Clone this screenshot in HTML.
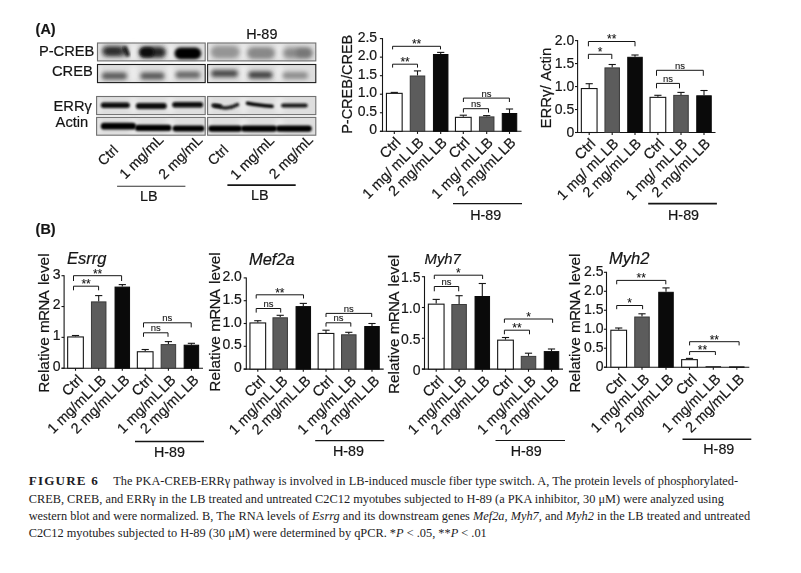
<!DOCTYPE html>
<html><head><meta charset="utf-8"><title>Figure 6</title>
<style>html,body{margin:0;padding:0;background:#fff;}body{width:801px;height:573px;overflow:hidden;}svg{display:block;}</style>
</head><body>
<svg width="801" height="573" viewBox="0 0 801 573" fill="#151515">
<defs><filter id="g5" x="-50%" y="-100%" width="200%" height="300%"><feGaussianBlur stdDeviation="0.5"/></filter><filter id="g6" x="-50%" y="-100%" width="200%" height="300%"><feGaussianBlur stdDeviation="0.6"/></filter><filter id="g7" x="-50%" y="-100%" width="200%" height="300%"><feGaussianBlur stdDeviation="0.7"/></filter><filter id="g8" x="-50%" y="-100%" width="200%" height="300%"><feGaussianBlur stdDeviation="0.8"/></filter><filter id="g9" x="-50%" y="-100%" width="200%" height="300%"><feGaussianBlur stdDeviation="0.9"/></filter><filter id="g10" x="-50%" y="-100%" width="200%" height="300%"><feGaussianBlur stdDeviation="1.0"/></filter><filter id="g11" x="-50%" y="-100%" width="200%" height="300%"><feGaussianBlur stdDeviation="1.1"/></filter><filter id="g12" x="-50%" y="-100%" width="200%" height="300%"><feGaussianBlur stdDeviation="1.2"/></filter><filter id="g13" x="-50%" y="-100%" width="200%" height="300%"><feGaussianBlur stdDeviation="1.3"/></filter><filter id="g14" x="-50%" y="-100%" width="200%" height="300%"><feGaussianBlur stdDeviation="1.4"/></filter><filter id="g15" x="-50%" y="-100%" width="200%" height="300%"><feGaussianBlur stdDeviation="1.5"/></filter><filter id="g16" x="-50%" y="-100%" width="200%" height="300%"><feGaussianBlur stdDeviation="1.6"/></filter><filter id="g17" x="-50%" y="-100%" width="200%" height="300%"><feGaussianBlur stdDeviation="1.7"/></filter><filter id="g18" x="-50%" y="-100%" width="200%" height="300%"><feGaussianBlur stdDeviation="1.8"/></filter><filter id="g19" x="-50%" y="-100%" width="200%" height="300%"><feGaussianBlur stdDeviation="1.9"/></filter><filter id="g20" x="-50%" y="-100%" width="200%" height="300%"><feGaussianBlur stdDeviation="2.0"/></filter><filter id="g21" x="-50%" y="-100%" width="200%" height="300%"><feGaussianBlur stdDeviation="2.1"/></filter><filter id="g22" x="-50%" y="-100%" width="200%" height="300%"><feGaussianBlur stdDeviation="2.2"/></filter><filter id="g23" x="-50%" y="-100%" width="200%" height="300%"><feGaussianBlur stdDeviation="2.3"/></filter><filter id="g24" x="-50%" y="-100%" width="200%" height="300%"><feGaussianBlur stdDeviation="2.4"/></filter><filter id="g25" x="-50%" y="-100%" width="200%" height="300%"><feGaussianBlur stdDeviation="2.5"/></filter><filter id="g26" x="-50%" y="-100%" width="200%" height="300%"><feGaussianBlur stdDeviation="2.6"/></filter><filter id="g27" x="-50%" y="-100%" width="200%" height="300%"><feGaussianBlur stdDeviation="2.7"/></filter><filter id="g28" x="-50%" y="-100%" width="200%" height="300%"><feGaussianBlur stdDeviation="2.8"/></filter><filter id="g29" x="-50%" y="-100%" width="200%" height="300%"><feGaussianBlur stdDeviation="2.9"/></filter><filter id="g30" x="-50%" y="-100%" width="200%" height="300%"><feGaussianBlur stdDeviation="3.0"/></filter><filter id="g31" x="-50%" y="-100%" width="200%" height="300%"><feGaussianBlur stdDeviation="3.1"/></filter><filter id="g32" x="-50%" y="-100%" width="200%" height="300%"><feGaussianBlur stdDeviation="3.2"/></filter><filter id="g33" x="-50%" y="-100%" width="200%" height="300%"><feGaussianBlur stdDeviation="3.3"/></filter><filter id="g34" x="-50%" y="-100%" width="200%" height="300%"><feGaussianBlur stdDeviation="3.4"/></filter><filter id="g35" x="-50%" y="-100%" width="200%" height="300%"><feGaussianBlur stdDeviation="3.5"/></filter><filter id="g36" x="-50%" y="-100%" width="200%" height="300%"><feGaussianBlur stdDeviation="3.6"/></filter><filter id="g37" x="-50%" y="-100%" width="200%" height="300%"><feGaussianBlur stdDeviation="3.7"/></filter><filter id="g38" x="-50%" y="-100%" width="200%" height="300%"><feGaussianBlur stdDeviation="3.8"/></filter><filter id="g39" x="-50%" y="-100%" width="200%" height="300%"><feGaussianBlur stdDeviation="3.9"/></filter></defs>
<rect width="801" height="573" fill="#fff"/>
<g style="filter:grayscale(1)">
<text x="35.6" y="33.6" font-size="14.4" text-anchor="start" font-family='"Liberation Sans", sans-serif' font-weight="bold"  stroke="#151515" stroke-width="0.2">(A)</text>
<text x="261.8" y="38.8" font-size="14.4" text-anchor="middle" font-family='"Liberation Sans", sans-serif'   stroke="#151515" stroke-width="0.2">H-89</text>
<text x="38.9" y="56.4" font-size="14.7" text-anchor="start" font-family='"Liberation Sans", sans-serif'   stroke="#151515" stroke-width="0.2">P-CREB</text>
<text x="52" y="75.8" font-size="14.7" text-anchor="start" font-family='"Liberation Sans", sans-serif'   stroke="#151515" stroke-width="0.2">CREB</text>
<text x="53.5" y="110.8" font-size="14.7" text-anchor="start" font-family='"Liberation Sans", sans-serif'   stroke="#151515" stroke-width="0.2">ERRγ</text>
<text x="55.6" y="127.4" font-size="14.7" text-anchor="start" font-family='"Liberation Sans", sans-serif'   stroke="#151515" stroke-width="0.2">Actin</text>
<rect x="97.5" y="43" width="107.7" height="17.9" fill="#dedede"/>
<rect x="207.6" y="43" width="108.2" height="17.9" fill="#dedede"/>
<rect x="97.5" y="64.5" width="107.7" height="18.1" fill="#dedede"/>
<rect x="207.6" y="64.5" width="108.2" height="18.1" fill="#dedede"/>
<rect x="96.6" y="96.5" width="108.6" height="18.1" fill="#dedede"/>
<rect x="207.6" y="96.5" width="108.2" height="18.1" fill="#dedede"/>
<rect x="96.6" y="117.4" width="108.6" height="17.8" fill="#dedede"/>
<rect x="207.6" y="117.4" width="108.2" height="17.8" fill="#dedede"/>
<rect x="129.5" y="44" width="8" height="15.9" rx="2" fill="#ececec" opacity="1.0" filter="url(#g25)"/>
<rect x="166.5" y="44" width="8" height="15.9" rx="2" fill="#ececec" opacity="1.0" filter="url(#g25)"/>
<rect x="239.5" y="44" width="8" height="15.9" rx="2" fill="#ececec" opacity="1.0" filter="url(#g25)"/>
<rect x="275.5" y="44" width="8" height="15.9" rx="2" fill="#ececec" opacity="1.0" filter="url(#g25)"/>
<rect x="98" y="44" width="4" height="15.9" rx="1" fill="#e6e6e6" opacity="1.0" filter="url(#g15)"/>
<rect x="208" y="44" width="4" height="15.9" rx="1" fill="#e6e6e6" opacity="1.0" filter="url(#g15)"/>
<rect x="129.5" y="65.5" width="8" height="16.1" rx="2" fill="#ececec" opacity="1.0" filter="url(#g25)"/>
<rect x="166.5" y="65.5" width="8" height="16.1" rx="2" fill="#ececec" opacity="1.0" filter="url(#g25)"/>
<rect x="239.5" y="65.5" width="8" height="16.1" rx="2" fill="#ececec" opacity="1.0" filter="url(#g25)"/>
<rect x="275.5" y="65.5" width="8" height="16.1" rx="2" fill="#ececec" opacity="1.0" filter="url(#g25)"/>
<rect x="98" y="65.5" width="4" height="16.1" rx="1" fill="#e6e6e6" opacity="1.0" filter="url(#g15)"/>
<rect x="208" y="65.5" width="4" height="16.1" rx="1" fill="#e6e6e6" opacity="1.0" filter="url(#g15)"/>
<rect x="129.5" y="97.5" width="8" height="16.1" rx="2" fill="#ececec" opacity="1.0" filter="url(#g25)"/>
<rect x="166.5" y="97.5" width="8" height="16.1" rx="2" fill="#ececec" opacity="1.0" filter="url(#g25)"/>
<rect x="239.5" y="97.5" width="8" height="16.1" rx="2" fill="#ececec" opacity="1.0" filter="url(#g25)"/>
<rect x="275.5" y="97.5" width="8" height="16.1" rx="2" fill="#ececec" opacity="1.0" filter="url(#g25)"/>
<rect x="98" y="97.5" width="4" height="16.1" rx="1" fill="#e6e6e6" opacity="1.0" filter="url(#g15)"/>
<rect x="208" y="97.5" width="4" height="16.1" rx="1" fill="#e6e6e6" opacity="1.0" filter="url(#g15)"/>
<rect x="129.5" y="118.4" width="8" height="15.8" rx="2" fill="#ececec" opacity="1.0" filter="url(#g25)"/>
<rect x="166.5" y="118.4" width="8" height="15.8" rx="2" fill="#ececec" opacity="1.0" filter="url(#g25)"/>
<rect x="239.5" y="118.4" width="8" height="15.8" rx="2" fill="#ececec" opacity="1.0" filter="url(#g25)"/>
<rect x="275.5" y="118.4" width="8" height="15.8" rx="2" fill="#ececec" opacity="1.0" filter="url(#g25)"/>
<rect x="98" y="118.4" width="4" height="15.8" rx="1" fill="#e6e6e6" opacity="1.0" filter="url(#g15)"/>
<rect x="208" y="118.4" width="4" height="15.8" rx="1" fill="#e6e6e6" opacity="1.0" filter="url(#g15)"/>
<rect x="102" y="46.3" width="25" height="9.9" rx="4.95" fill="#444" opacity="1.0" filter="url(#g24)"/>
<rect x="105" y="48.5" width="16" height="5.5" rx="2.75" fill="#262626" opacity="1.0" filter="url(#g19)"/>
<path d="M124.3,46.8 L128.3,56.3" stroke="#080808" stroke-width="4" fill="none" filter="url(#g14)"/>
<rect x="139" y="46.8" width="27" height="11" rx="5.5" fill="#262626" opacity="1.0" filter="url(#g21)"/>
<rect x="140" y="47.8" width="14" height="9" rx="4.5" fill="#0c0c0c" opacity="1.0" filter="url(#g17)"/>
<rect x="174.5" y="47.4" width="26.7" height="11.8" rx="5.9" fill="#000" opacity="1.0" filter="url(#g16)"/>
<rect x="210.5" y="46" width="29.5" height="12" rx="6" fill="#9a9a9a" opacity="1.0" filter="url(#g26)"/>
<rect x="214" y="48.5" width="22" height="7.5" rx="3.75" fill="#949494" opacity="1.0" filter="url(#g22)"/>
<rect x="247" y="47.5" width="28" height="11" rx="5.5" fill="#8c8c8c" opacity="1.0" filter="url(#g26)"/>
<rect x="250" y="49.5" width="22" height="7.5" rx="3.75" fill="#888888" opacity="1.0" filter="url(#g22)"/>
<rect x="283" y="47.5" width="29.5" height="11" rx="5.5" fill="#8a8a8a" opacity="1.0" filter="url(#g26)"/>
<rect x="296" y="49" width="15" height="8" rx="4" fill="#767676" opacity="1.0" filter="url(#g22)"/>
<rect x="101.8" y="72.6" width="25.2" height="7" rx="3.5" fill="#585858" opacity="1.0" filter="url(#g23)"/>
<rect x="140.3" y="72.6" width="24.2" height="7" rx="3.5" fill="#565656" opacity="1.0" filter="url(#g23)"/>
<rect x="175.5" y="71.5" width="24.7" height="6.8" rx="3.4" fill="#646464" opacity="1.0" filter="url(#g23)"/>
<rect x="211" y="69.9" width="27" height="7" rx="3.5" fill="#474747" opacity="1.0" filter="url(#g23)"/>
<rect x="248.3" y="71.4" width="24.2" height="7.2" rx="3.6" fill="#3e3e3e" opacity="1.0" filter="url(#g23)"/>
<rect x="282.5" y="72" width="25.5" height="7" rx="3.5" fill="#8c8c8c" opacity="1.0" filter="url(#g23)"/>
<rect x="100.8" y="102.6" width="29" height="5.4" rx="2.7" fill="#0a0a0a" opacity="1.0" filter="url(#g12)"/>
<rect x="135.8" y="103.1" width="30.9" height="5.8" rx="2.9" fill="#0a0a0a" opacity="1.0" filter="url(#g12)"/>
<rect x="172.2" y="101.9" width="30.9" height="5.6" rx="2.8" fill="#0a0a0a" opacity="1.0" filter="url(#g12)"/>
<path d="M213,105.4 C218,105.2 221,108.2 226,108 C231,107.8 234,106.5 237.5,104.6" stroke="#202020" stroke-width="3.6" fill="none" stroke-linecap="round" filter="url(#g13)"/>
<rect x="213" y="104.2" width="9" height="3.6" rx="1.8" fill="#111" opacity="1.0" filter="url(#g13)"/>
<path d="M247.5,103.2 Q258,105.2 272,106.3" stroke="#050505" stroke-width="3.6" fill="none" stroke-linecap="round" filter="url(#g11)"/>
<rect x="281" y="103.4" width="26.7" height="4.2" rx="2.1" fill="#181818" opacity="1.0" filter="url(#g11)"/>
<rect x="100.8" y="122.8" width="35.2" height="6.7" rx="3.35" fill="#000" opacity="1.0" filter="url(#g13)"/>
<rect x="135" y="124.8" width="36.5" height="6.2" rx="3.1" fill="#000" opacity="1.0" filter="url(#g12)"/>
<rect x="172.5" y="125.5" width="32" height="6.1" rx="3.05" fill="#000" opacity="1.0" filter="url(#g12)"/>
<rect x="208.2" y="125.4" width="33.8" height="6.4" rx="3.2" fill="#000" opacity="1.0" filter="url(#g12)"/>
<rect x="241" y="125.4" width="36" height="6.4" rx="3.2" fill="#000" opacity="1.0" filter="url(#g12)"/>
<rect x="276" y="125.4" width="35.8" height="6.4" rx="3.2" fill="#000" opacity="1.0" filter="url(#g12)"/>
<rect x="97.5" y="43" width="107.7" height="17.9" fill="none" stroke="#707070" stroke-width="1.1"/>
<rect x="207.6" y="43" width="108.2" height="17.9" fill="none" stroke="#707070" stroke-width="1.1"/>
<rect x="97.5" y="64.5" width="107.7" height="18.1" fill="none" stroke="#1e1e1e" stroke-width="1.1"/>
<rect x="207.6" y="64.5" width="108.2" height="18.1" fill="none" stroke="#1e1e1e" stroke-width="1.1"/>
<rect x="96.6" y="96.5" width="108.6" height="18.1" fill="none" stroke="#707070" stroke-width="1.1"/>
<rect x="207.6" y="96.5" width="108.2" height="18.1" fill="none" stroke="#707070" stroke-width="1.1"/>
<rect x="96.6" y="117.4" width="108.6" height="17.8" fill="none" stroke="#707070" stroke-width="1.1"/>
<rect x="207.6" y="117.4" width="108.2" height="17.8" fill="none" stroke="#707070" stroke-width="1.1"/>
<text transform="translate(119,151) rotate(-45)" font-size="14.2" text-anchor="end" font-family='"Liberation Sans", sans-serif'  stroke="#151515" stroke-width="0.2">Ctrl</text>
<text transform="translate(164.3,140.6) rotate(-45)" font-size="14.2" text-anchor="end" font-family='"Liberation Sans", sans-serif'  stroke="#151515" stroke-width="0.2">1 mg/mL</text>
<text transform="translate(203.3,141) rotate(-45)" font-size="14.2" text-anchor="end" font-family='"Liberation Sans", sans-serif'  stroke="#151515" stroke-width="0.2">2 mg/mL</text>
<text transform="translate(229.2,150.7) rotate(-45)" font-size="14.2" text-anchor="end" font-family='"Liberation Sans", sans-serif'  stroke="#151515" stroke-width="0.2">Ctrl</text>
<text transform="translate(275.1,141.4) rotate(-45)" font-size="14.2" text-anchor="end" font-family='"Liberation Sans", sans-serif'  stroke="#151515" stroke-width="0.2">1 mg/mL</text>
<text transform="translate(313.9,140.7) rotate(-45)" font-size="14.2" text-anchor="end" font-family='"Liberation Sans", sans-serif'  stroke="#151515" stroke-width="0.2">2 mg/mL</text>
<line x1="117.1" y1="186.2" x2="185.4" y2="186.2" stroke="#333" stroke-width="1.1"/>
<line x1="227.4" y1="185.2" x2="295.7" y2="185.2" stroke="#151515" stroke-width="1.7"/>
<text x="148.7" y="200.6" font-size="14.4" text-anchor="middle" font-family='"Liberation Sans", sans-serif'   stroke="#151515" stroke-width="0.2">LB</text>
<text x="259.9" y="200.2" font-size="14.4" text-anchor="middle" font-family='"Liberation Sans", sans-serif'   stroke="#151515" stroke-width="0.2">LB</text>
<line x1="382.5" y1="38.1" x2="382.5" y2="131.8" stroke="#151515" stroke-width="1.1"/>
<line x1="379.9" y1="131.3" x2="521.5" y2="131.3" stroke="#151515" stroke-width="1.1"/>
<line x1="379.9" y1="131.3" x2="382.5" y2="131.3" stroke="#151515" stroke-width="1.1"/>
<text x="377.1" y="134.35" font-size="14" text-anchor="end" font-family='"Liberation Sans", sans-serif'   stroke="#151515" stroke-width="0.2">0</text>
<line x1="379.9" y1="112.76" x2="382.5" y2="112.76" stroke="#151515" stroke-width="1.1"/>
<text x="377.1" y="115.81" font-size="14" text-anchor="end" font-family='"Liberation Sans", sans-serif'   stroke="#151515" stroke-width="0.2">0.5</text>
<line x1="379.9" y1="94.22" x2="382.5" y2="94.22" stroke="#151515" stroke-width="1.1"/>
<text x="377.1" y="97.27" font-size="14" text-anchor="end" font-family='"Liberation Sans", sans-serif'   stroke="#151515" stroke-width="0.2">1.0</text>
<line x1="379.9" y1="75.68" x2="382.5" y2="75.68" stroke="#151515" stroke-width="1.1"/>
<text x="377.1" y="78.73" font-size="14" text-anchor="end" font-family='"Liberation Sans", sans-serif'   stroke="#151515" stroke-width="0.2">1.5</text>
<line x1="379.9" y1="57.14" x2="382.5" y2="57.14" stroke="#151515" stroke-width="1.1"/>
<text x="377.1" y="60.19" font-size="14" text-anchor="end" font-family='"Liberation Sans", sans-serif'   stroke="#151515" stroke-width="0.2">2.0</text>
<line x1="379.9" y1="38.6" x2="382.5" y2="38.6" stroke="#151515" stroke-width="1.1"/>
<text x="377.1" y="41.65" font-size="14" text-anchor="end" font-family='"Liberation Sans", sans-serif'   stroke="#151515" stroke-width="0.2">2.5</text>
<line x1="394.3" y1="92.4" x2="394.3" y2="92.8" stroke="#151515" stroke-width="1.1"/>
<line x1="390.7" y1="92.4" x2="397.9" y2="92.4" stroke="#151515" stroke-width="1.1"/>
<rect x="386.45" y="93.35" width="15.7" height="37.95" fill="#fff" stroke="#151515" stroke-width="1.1"/>
<line x1="394.3" y1="131.3" x2="394.3" y2="133.9" stroke="#151515" stroke-width="1.1"/>
<line x1="417.5" y1="70.9" x2="417.5" y2="75.5" stroke="#151515" stroke-width="1.1"/>
<line x1="413.9" y1="70.9" x2="421.1" y2="70.9" stroke="#151515" stroke-width="1.1"/>
<rect x="410.25" y="76" width="14.5" height="55.3" fill="#5c5c5c" stroke="#3a3a3a" stroke-width="1"/>
<line x1="417.5" y1="131.3" x2="417.5" y2="133.9" stroke="#151515" stroke-width="1.1"/>
<line x1="440.7" y1="52.4" x2="440.7" y2="54" stroke="#151515" stroke-width="1.1"/>
<line x1="437.1" y1="52.4" x2="444.3" y2="52.4" stroke="#151515" stroke-width="1.1"/>
<rect x="433.45" y="54.5" width="14.5" height="76.8" fill="#0a0a0a" stroke="#0a0a0a" stroke-width="1"/>
<line x1="440.7" y1="131.3" x2="440.7" y2="133.9" stroke="#151515" stroke-width="1.1"/>
<line x1="463.3" y1="115.2" x2="463.3" y2="116.8" stroke="#151515" stroke-width="1.1"/>
<line x1="459.7" y1="115.2" x2="466.9" y2="115.2" stroke="#151515" stroke-width="1.1"/>
<rect x="455.45" y="117.35" width="15.7" height="13.95" fill="#fff" stroke="#151515" stroke-width="1.1"/>
<line x1="463.3" y1="131.3" x2="463.3" y2="133.9" stroke="#151515" stroke-width="1.1"/>
<line x1="486.7" y1="115.6" x2="486.7" y2="116.4" stroke="#151515" stroke-width="1.1"/>
<line x1="483.1" y1="115.6" x2="490.3" y2="115.6" stroke="#151515" stroke-width="1.1"/>
<rect x="479.45" y="116.9" width="14.5" height="14.4" fill="#5c5c5c" stroke="#3a3a3a" stroke-width="1"/>
<line x1="486.7" y1="131.3" x2="486.7" y2="133.9" stroke="#151515" stroke-width="1.1"/>
<line x1="509.5" y1="109" x2="509.5" y2="113" stroke="#151515" stroke-width="1.1"/>
<line x1="505.9" y1="109" x2="513.1" y2="109" stroke="#151515" stroke-width="1.1"/>
<rect x="502.25" y="113.5" width="14.5" height="17.8" fill="#0a0a0a" stroke="#0a0a0a" stroke-width="1"/>
<line x1="509.5" y1="131.3" x2="509.5" y2="133.9" stroke="#151515" stroke-width="1.1"/>
<polyline points="392.6,67.6 392.6,64.2 417.5,64.2 417.5,67.6" fill="none" stroke="#151515" stroke-width="1.0"/>
<text x="405.05" y="66.1" font-size="12" text-anchor="middle" font-family='"Liberation Sans", sans-serif'   stroke="#151515" stroke-width="0.1">**</text>
<polyline points="392.6,49.4 392.6,46.3 440.5,46.3 440.5,49.4" fill="none" stroke="#151515" stroke-width="1.0"/>
<text x="416.55" y="48.2" font-size="12" text-anchor="middle" font-family='"Liberation Sans", sans-serif'   stroke="#151515" stroke-width="0.1">**</text>
<polyline points="463.4,112.5 463.4,108.7 488.5,108.7 488.5,112.5" fill="none" stroke="#151515" stroke-width="1.0"/>
<text x="475.95" y="107.1" font-size="9.5" text-anchor="middle" font-family='"Liberation Sans", sans-serif'   stroke="#151515" stroke-width="0.1">ns</text>
<polyline points="463.4,102 463.4,98.1 509.4,98.1 509.4,102" fill="none" stroke="#151515" stroke-width="1.0"/>
<text x="486.4" y="96.5" font-size="9.5" text-anchor="middle" font-family='"Liberation Sans", sans-serif'   stroke="#151515" stroke-width="0.1">ns</text>
<text transform="translate(401.5,143.3) rotate(-45)" font-size="14.5" text-anchor="end" font-family='"Liberation Sans", sans-serif'  stroke="#151515" stroke-width="0.2">Ctrl</text>
<text transform="translate(424.7,143.3) rotate(-45)" font-size="14.5" text-anchor="end" font-family='"Liberation Sans", sans-serif'  stroke="#151515" stroke-width="0.2">1 mg/ mL<tspan dx="-2.2">&#160;LB</tspan></text>
<text transform="translate(447.9,143.3) rotate(-45)" font-size="14.5" text-anchor="end" font-family='"Liberation Sans", sans-serif'  stroke="#151515" stroke-width="0.2">2 mg/mL<tspan dx="-2.2">&#160;LB</tspan></text>
<text transform="translate(470.5,143.3) rotate(-45)" font-size="14.5" text-anchor="end" font-family='"Liberation Sans", sans-serif'  stroke="#151515" stroke-width="0.2">Ctrl</text>
<text transform="translate(493.9,143.3) rotate(-45)" font-size="14.5" text-anchor="end" font-family='"Liberation Sans", sans-serif'  stroke="#151515" stroke-width="0.2">1 mg/ mL<tspan dx="-2.2">&#160;LB</tspan></text>
<text transform="translate(516.7,143.3) rotate(-45)" font-size="14.5" text-anchor="end" font-family='"Liberation Sans", sans-serif'  stroke="#151515" stroke-width="0.2">2 mg/mL<tspan dx="-2.2">&#160;LB</tspan></text>
<line x1="453" y1="203.7" x2="522" y2="203.7" stroke="#151515" stroke-width="1.2"/>
<text x="485.7" y="219.9" font-size="14.3" text-anchor="middle" font-family='"Liberation Sans", sans-serif'   stroke="#151515" stroke-width="0.2">H-89</text>
<text transform="translate(351.9,84.3) rotate(-90)" font-size="14.5" text-anchor="middle" font-family='"Liberation Sans", sans-serif'  stroke="#151515" stroke-width="0.2">P-CREB/CREB</text>
<line x1="577.6" y1="40.1" x2="577.6" y2="133" stroke="#151515" stroke-width="1.1"/>
<line x1="575" y1="132.5" x2="715.5" y2="132.5" stroke="#151515" stroke-width="1.1"/>
<line x1="575" y1="132.5" x2="577.6" y2="132.5" stroke="#151515" stroke-width="1.1"/>
<text x="574.3" y="136.95" font-size="14" text-anchor="end" font-family='"Liberation Sans", sans-serif'   stroke="#151515" stroke-width="0.2">0</text>
<line x1="575" y1="109.53" x2="577.6" y2="109.53" stroke="#151515" stroke-width="1.1"/>
<text x="574.3" y="113.98" font-size="14" text-anchor="end" font-family='"Liberation Sans", sans-serif'   stroke="#151515" stroke-width="0.2">0.5</text>
<line x1="575" y1="86.55" x2="577.6" y2="86.55" stroke="#151515" stroke-width="1.1"/>
<text x="574.3" y="91" font-size="14" text-anchor="end" font-family='"Liberation Sans", sans-serif'   stroke="#151515" stroke-width="0.2">1.0</text>
<line x1="575" y1="63.57" x2="577.6" y2="63.57" stroke="#151515" stroke-width="1.1"/>
<text x="574.3" y="68.02" font-size="14" text-anchor="end" font-family='"Liberation Sans", sans-serif'   stroke="#151515" stroke-width="0.2">1.5</text>
<line x1="575" y1="40.6" x2="577.6" y2="40.6" stroke="#151515" stroke-width="1.1"/>
<text x="574.3" y="45.05" font-size="14" text-anchor="end" font-family='"Liberation Sans", sans-serif'   stroke="#151515" stroke-width="0.2">2.0</text>
<line x1="589.2" y1="83.7" x2="589.2" y2="88" stroke="#151515" stroke-width="1.1"/>
<line x1="585.6" y1="83.7" x2="592.8" y2="83.7" stroke="#151515" stroke-width="1.1"/>
<rect x="581.35" y="88.55" width="15.7" height="43.95" fill="#fff" stroke="#151515" stroke-width="1.1"/>
<line x1="589.2" y1="132.5" x2="589.2" y2="135.1" stroke="#151515" stroke-width="1.1"/>
<line x1="612.2" y1="64.5" x2="612.2" y2="67.4" stroke="#151515" stroke-width="1.1"/>
<line x1="608.6" y1="64.5" x2="615.8" y2="64.5" stroke="#151515" stroke-width="1.1"/>
<rect x="604.95" y="67.9" width="14.5" height="64.6" fill="#5c5c5c" stroke="#3a3a3a" stroke-width="1"/>
<line x1="612.2" y1="132.5" x2="612.2" y2="135.1" stroke="#151515" stroke-width="1.1"/>
<line x1="635" y1="55" x2="635" y2="56.8" stroke="#151515" stroke-width="1.1"/>
<line x1="631.4" y1="55" x2="638.6" y2="55" stroke="#151515" stroke-width="1.1"/>
<rect x="627.75" y="57.3" width="14.5" height="75.2" fill="#0a0a0a" stroke="#0a0a0a" stroke-width="1"/>
<line x1="635" y1="132.5" x2="635" y2="135.1" stroke="#151515" stroke-width="1.1"/>
<line x1="657.9" y1="95.3" x2="657.9" y2="96.8" stroke="#151515" stroke-width="1.1"/>
<line x1="654.3" y1="95.3" x2="661.5" y2="95.3" stroke="#151515" stroke-width="1.1"/>
<rect x="650.05" y="97.35" width="15.7" height="35.15" fill="#fff" stroke="#151515" stroke-width="1.1"/>
<line x1="657.9" y1="132.5" x2="657.9" y2="135.1" stroke="#151515" stroke-width="1.1"/>
<line x1="681" y1="92.4" x2="681" y2="94.9" stroke="#151515" stroke-width="1.1"/>
<line x1="677.4" y1="92.4" x2="684.6" y2="92.4" stroke="#151515" stroke-width="1.1"/>
<rect x="673.75" y="95.4" width="14.5" height="37.1" fill="#5c5c5c" stroke="#3a3a3a" stroke-width="1"/>
<line x1="681" y1="132.5" x2="681" y2="135.1" stroke="#151515" stroke-width="1.1"/>
<line x1="704" y1="90.5" x2="704" y2="95.3" stroke="#151515" stroke-width="1.1"/>
<line x1="700.4" y1="90.5" x2="707.6" y2="90.5" stroke="#151515" stroke-width="1.1"/>
<rect x="696.75" y="95.8" width="14.5" height="36.7" fill="#0a0a0a" stroke="#0a0a0a" stroke-width="1"/>
<line x1="704" y1="132.5" x2="704" y2="135.1" stroke="#151515" stroke-width="1.1"/>
<polyline points="588.4,59 588.4,54.3 611.8,54.3 611.8,59" fill="none" stroke="#151515" stroke-width="1.0"/>
<text x="600.1" y="56.2" font-size="12" text-anchor="middle" font-family='"Liberation Sans", sans-serif'   stroke="#151515" stroke-width="0.1">*</text>
<polyline points="588.4,46.3 588.4,41.5 635,41.5 635,46.3" fill="none" stroke="#151515" stroke-width="1.0"/>
<text x="611.7" y="43.4" font-size="12" text-anchor="middle" font-family='"Liberation Sans", sans-serif'   stroke="#151515" stroke-width="0.1">**</text>
<polyline points="656.5,88.3 656.5,83.4 679.5,83.4 679.5,88.3" fill="none" stroke="#151515" stroke-width="1.0"/>
<text x="668" y="81.8" font-size="9.5" text-anchor="middle" font-family='"Liberation Sans", sans-serif'   stroke="#151515" stroke-width="0.1">ns</text>
<polyline points="656.5,75.8 656.5,70.3 703.3,70.3 703.3,75.8" fill="none" stroke="#151515" stroke-width="1.0"/>
<text x="679.9" y="68.7" font-size="9.5" text-anchor="middle" font-family='"Liberation Sans", sans-serif'   stroke="#151515" stroke-width="0.1">ns</text>
<text transform="translate(596.4,144.5) rotate(-45)" font-size="14.5" text-anchor="end" font-family='"Liberation Sans", sans-serif'  stroke="#151515" stroke-width="0.2">Ctrl</text>
<text transform="translate(619.4,144.5) rotate(-45)" font-size="14.5" text-anchor="end" font-family='"Liberation Sans", sans-serif'  stroke="#151515" stroke-width="0.2">1 mg/ mL<tspan dx="-2.2">&#160;LB</tspan></text>
<text transform="translate(642.2,144.5) rotate(-45)" font-size="14.5" text-anchor="end" font-family='"Liberation Sans", sans-serif'  stroke="#151515" stroke-width="0.2">2 mg/mL<tspan dx="-2.2">&#160;LB</tspan></text>
<text transform="translate(665.1,144.5) rotate(-45)" font-size="14.5" text-anchor="end" font-family='"Liberation Sans", sans-serif'  stroke="#151515" stroke-width="0.2">Ctrl</text>
<text transform="translate(688.2,144.5) rotate(-45)" font-size="14.5" text-anchor="end" font-family='"Liberation Sans", sans-serif'  stroke="#151515" stroke-width="0.2">1 mg/ mL<tspan dx="-2.2">&#160;LB</tspan></text>
<text transform="translate(711.2,144.5) rotate(-45)" font-size="14.5" text-anchor="end" font-family='"Liberation Sans", sans-serif'  stroke="#151515" stroke-width="0.2">2 mg/mL<tspan dx="-2.2">&#160;LB</tspan></text>
<line x1="648.2" y1="203.6" x2="716.9" y2="203.6" stroke="#151515" stroke-width="1.7"/>
<text x="683.55" y="220.1" font-size="14.3" text-anchor="middle" font-family='"Liberation Sans", sans-serif'   stroke="#151515" stroke-width="0.2">H-89</text>
<text transform="translate(551.4,88.2) rotate(-90)" font-size="15" text-anchor="middle" font-family='"Liberation Sans", sans-serif'  stroke="#151515" stroke-width="0.2">ERRγ/ Actin</text>
<line x1="64.1" y1="275.2" x2="64.1" y2="368.7" stroke="#151515" stroke-width="1.1"/>
<line x1="61.5" y1="368.2" x2="203" y2="368.2" stroke="#151515" stroke-width="1.1"/>
<line x1="61.5" y1="368.2" x2="64.1" y2="368.2" stroke="#151515" stroke-width="1.1"/>
<text x="60.5" y="371.15" font-size="14" text-anchor="end" font-family='"Liberation Sans", sans-serif'   stroke="#151515" stroke-width="0.2">0</text>
<line x1="61.5" y1="337.37" x2="64.1" y2="337.37" stroke="#151515" stroke-width="1.1"/>
<text x="60.5" y="340.32" font-size="14" text-anchor="end" font-family='"Liberation Sans", sans-serif'   stroke="#151515" stroke-width="0.2">1</text>
<line x1="61.5" y1="306.53" x2="64.1" y2="306.53" stroke="#151515" stroke-width="1.1"/>
<text x="60.5" y="309.48" font-size="14" text-anchor="end" font-family='"Liberation Sans", sans-serif'   stroke="#151515" stroke-width="0.2">2</text>
<line x1="61.5" y1="275.7" x2="64.1" y2="275.7" stroke="#151515" stroke-width="1.1"/>
<text x="60.5" y="278.65" font-size="14" text-anchor="end" font-family='"Liberation Sans", sans-serif'   stroke="#151515" stroke-width="0.2">3</text>
<line x1="75.5" y1="335.5" x2="75.5" y2="336.4" stroke="#151515" stroke-width="1.1"/>
<line x1="71.9" y1="335.5" x2="79.1" y2="335.5" stroke="#151515" stroke-width="1.1"/>
<rect x="67.65" y="336.95" width="15.7" height="31.25" fill="#fff" stroke="#151515" stroke-width="1.1"/>
<line x1="75.5" y1="368.2" x2="75.5" y2="370.8" stroke="#151515" stroke-width="1.1"/>
<line x1="98.7" y1="295.6" x2="98.7" y2="301.4" stroke="#151515" stroke-width="1.1"/>
<line x1="95.1" y1="295.6" x2="102.3" y2="295.6" stroke="#151515" stroke-width="1.1"/>
<rect x="91.45" y="301.9" width="14.5" height="66.3" fill="#5c5c5c" stroke="#3a3a3a" stroke-width="1"/>
<line x1="98.7" y1="368.2" x2="98.7" y2="370.8" stroke="#151515" stroke-width="1.1"/>
<line x1="122.3" y1="284.6" x2="122.3" y2="286.6" stroke="#151515" stroke-width="1.1"/>
<line x1="118.7" y1="284.6" x2="125.9" y2="284.6" stroke="#151515" stroke-width="1.1"/>
<rect x="115.05" y="287.1" width="14.5" height="81.1" fill="#0a0a0a" stroke="#0a0a0a" stroke-width="1"/>
<line x1="122.3" y1="368.2" x2="122.3" y2="370.8" stroke="#151515" stroke-width="1.1"/>
<line x1="145.2" y1="349.5" x2="145.2" y2="351.2" stroke="#151515" stroke-width="1.1"/>
<line x1="141.6" y1="349.5" x2="148.8" y2="349.5" stroke="#151515" stroke-width="1.1"/>
<rect x="137.35" y="351.75" width="15.7" height="16.45" fill="#fff" stroke="#151515" stroke-width="1.1"/>
<line x1="145.2" y1="368.2" x2="145.2" y2="370.8" stroke="#151515" stroke-width="1.1"/>
<line x1="168.4" y1="341.6" x2="168.4" y2="344.1" stroke="#151515" stroke-width="1.1"/>
<line x1="164.8" y1="341.6" x2="172" y2="341.6" stroke="#151515" stroke-width="1.1"/>
<rect x="161.15" y="344.6" width="14.5" height="23.6" fill="#5c5c5c" stroke="#3a3a3a" stroke-width="1"/>
<line x1="168.4" y1="368.2" x2="168.4" y2="370.8" stroke="#151515" stroke-width="1.1"/>
<line x1="191.4" y1="343.3" x2="191.4" y2="344.7" stroke="#151515" stroke-width="1.1"/>
<line x1="187.8" y1="343.3" x2="195" y2="343.3" stroke="#151515" stroke-width="1.1"/>
<rect x="184.15" y="345.2" width="14.5" height="23" fill="#0a0a0a" stroke="#0a0a0a" stroke-width="1"/>
<line x1="191.4" y1="368.2" x2="191.4" y2="370.8" stroke="#151515" stroke-width="1.1"/>
<polyline points="73.5,290.3 73.5,286.2 98.6,286.2 98.6,290.3" fill="none" stroke="#151515" stroke-width="1.0"/>
<text x="86.05" y="288.1" font-size="12" text-anchor="middle" font-family='"Liberation Sans", sans-serif'   stroke="#151515" stroke-width="0.1">**</text>
<polyline points="73.5,281 73.5,275.7 121.6,275.7 121.6,281" fill="none" stroke="#151515" stroke-width="1.0"/>
<text x="97.55" y="277.6" font-size="12" text-anchor="middle" font-family='"Liberation Sans", sans-serif'   stroke="#151515" stroke-width="0.1">**</text>
<polyline points="143.5,336.8 143.5,332.8 168,332.8 168,336.8" fill="none" stroke="#151515" stroke-width="1.0"/>
<text x="155.75" y="331.2" font-size="9.5" text-anchor="middle" font-family='"Liberation Sans", sans-serif'   stroke="#151515" stroke-width="0.1">ns</text>
<polyline points="143.5,327.4 143.5,322.8 191.2,322.8 191.2,327.4" fill="none" stroke="#151515" stroke-width="1.0"/>
<text x="167.35" y="321.2" font-size="9.5" text-anchor="middle" font-family='"Liberation Sans", sans-serif'   stroke="#151515" stroke-width="0.1">ns</text>
<text transform="translate(83.8,380.8) rotate(-45)" font-size="14.5" text-anchor="end" font-family='"Liberation Sans", sans-serif'  stroke="#151515" stroke-width="0.2">Ctrl</text>
<text transform="translate(107,380.8) rotate(-45)" font-size="14.5" text-anchor="end" font-family='"Liberation Sans", sans-serif'  stroke="#151515" stroke-width="0.2">1 mg/mL<tspan dx="-2.2">&#160;LB</tspan></text>
<text transform="translate(130.6,380.8) rotate(-45)" font-size="14.5" text-anchor="end" font-family='"Liberation Sans", sans-serif'  stroke="#151515" stroke-width="0.2">2 mg/mL<tspan dx="-2.2">&#160;LB</tspan></text>
<text transform="translate(153.5,380.8) rotate(-45)" font-size="14.5" text-anchor="end" font-family='"Liberation Sans", sans-serif'  stroke="#151515" stroke-width="0.2">Ctrl</text>
<text transform="translate(176.7,380.8) rotate(-45)" font-size="14.5" text-anchor="end" font-family='"Liberation Sans", sans-serif'  stroke="#151515" stroke-width="0.2">1 mg/mL<tspan dx="-2.2">&#160;LB</tspan></text>
<text transform="translate(199.7,380.8) rotate(-45)" font-size="14.5" text-anchor="end" font-family='"Liberation Sans", sans-serif'  stroke="#151515" stroke-width="0.2">2 mg/mL<tspan dx="-2.2">&#160;LB</tspan></text>
<line x1="135" y1="441.4" x2="204" y2="441.4" stroke="#151515" stroke-width="1.5"/>
<text x="169.5" y="457.4" font-size="14.3" text-anchor="middle" font-family='"Liberation Sans", sans-serif'   stroke="#151515" stroke-width="0.2">H-89</text>
<text transform="translate(49,323.1) rotate(-90)" font-size="15.4" text-anchor="middle" font-family='"Liberation Sans", sans-serif'  stroke="#151515" stroke-width="0.2">Relative <tspan letter-spacing="-0.85">mRNA</tspan><tspan dx="1.6">&#160;level</tspan></text>
<text x="66.9" y="264.1" font-size="16.6" text-anchor="start" font-family='"Liberation Sans", sans-serif' font-style="italic"  stroke="#151515" stroke-width="0.2">Esrrg</text>
<line x1="246.3" y1="277.4" x2="246.3" y2="369.6" stroke="#151515" stroke-width="1.1"/>
<line x1="243.7" y1="369.1" x2="383.7" y2="369.1" stroke="#151515" stroke-width="1.1"/>
<line x1="243.7" y1="369.1" x2="246.3" y2="369.1" stroke="#151515" stroke-width="1.1"/>
<text x="241.9" y="372.15" font-size="14" text-anchor="end" font-family='"Liberation Sans", sans-serif'   stroke="#151515" stroke-width="0.2">0</text>
<line x1="243.7" y1="346.3" x2="246.3" y2="346.3" stroke="#151515" stroke-width="1.1"/>
<text x="241.9" y="349.35" font-size="14" text-anchor="end" font-family='"Liberation Sans", sans-serif'   stroke="#151515" stroke-width="0.2">0.5</text>
<line x1="243.7" y1="323.5" x2="246.3" y2="323.5" stroke="#151515" stroke-width="1.1"/>
<text x="241.9" y="326.55" font-size="14" text-anchor="end" font-family='"Liberation Sans", sans-serif'   stroke="#151515" stroke-width="0.2">1.0</text>
<line x1="243.7" y1="300.7" x2="246.3" y2="300.7" stroke="#151515" stroke-width="1.1"/>
<text x="241.9" y="303.75" font-size="14" text-anchor="end" font-family='"Liberation Sans", sans-serif'   stroke="#151515" stroke-width="0.2">1.5</text>
<line x1="243.7" y1="277.9" x2="246.3" y2="277.9" stroke="#151515" stroke-width="1.1"/>
<text x="241.9" y="280.95" font-size="14" text-anchor="end" font-family='"Liberation Sans", sans-serif'   stroke="#151515" stroke-width="0.2">2.0</text>
<line x1="257.8" y1="320.7" x2="257.8" y2="322.4" stroke="#151515" stroke-width="1.1"/>
<line x1="254.2" y1="320.7" x2="261.4" y2="320.7" stroke="#151515" stroke-width="1.1"/>
<rect x="249.95" y="322.95" width="15.7" height="46.15" fill="#fff" stroke="#151515" stroke-width="1.1"/>
<line x1="257.8" y1="369.1" x2="257.8" y2="371.7" stroke="#151515" stroke-width="1.1"/>
<line x1="280.2" y1="315.3" x2="280.2" y2="317.3" stroke="#151515" stroke-width="1.1"/>
<line x1="276.6" y1="315.3" x2="283.8" y2="315.3" stroke="#151515" stroke-width="1.1"/>
<rect x="272.95" y="317.8" width="14.5" height="51.3" fill="#5c5c5c" stroke="#3a3a3a" stroke-width="1"/>
<line x1="280.2" y1="369.1" x2="280.2" y2="371.7" stroke="#151515" stroke-width="1.1"/>
<line x1="303.3" y1="303.4" x2="303.3" y2="306.1" stroke="#151515" stroke-width="1.1"/>
<line x1="299.7" y1="303.4" x2="306.9" y2="303.4" stroke="#151515" stroke-width="1.1"/>
<rect x="296.05" y="306.6" width="14.5" height="62.5" fill="#0a0a0a" stroke="#0a0a0a" stroke-width="1"/>
<line x1="303.3" y1="369.1" x2="303.3" y2="371.7" stroke="#151515" stroke-width="1.1"/>
<line x1="326" y1="330.2" x2="326" y2="332.9" stroke="#151515" stroke-width="1.1"/>
<line x1="322.4" y1="330.2" x2="329.6" y2="330.2" stroke="#151515" stroke-width="1.1"/>
<rect x="318.15" y="333.45" width="15.7" height="35.65" fill="#fff" stroke="#151515" stroke-width="1.1"/>
<line x1="326" y1="369.1" x2="326" y2="371.7" stroke="#151515" stroke-width="1.1"/>
<line x1="348.8" y1="332.3" x2="348.8" y2="334.3" stroke="#151515" stroke-width="1.1"/>
<line x1="345.2" y1="332.3" x2="352.4" y2="332.3" stroke="#151515" stroke-width="1.1"/>
<rect x="341.55" y="334.8" width="14.5" height="34.3" fill="#5c5c5c" stroke="#3a3a3a" stroke-width="1"/>
<line x1="348.8" y1="369.1" x2="348.8" y2="371.7" stroke="#151515" stroke-width="1.1"/>
<line x1="372" y1="323.5" x2="372" y2="326" stroke="#151515" stroke-width="1.1"/>
<line x1="368.4" y1="323.5" x2="375.6" y2="323.5" stroke="#151515" stroke-width="1.1"/>
<rect x="364.75" y="326.5" width="14.5" height="42.6" fill="#0a0a0a" stroke="#0a0a0a" stroke-width="1"/>
<line x1="372" y1="369.1" x2="372" y2="371.7" stroke="#151515" stroke-width="1.1"/>
<polyline points="256.2,312.6 256.2,308.5 280.7,308.5 280.7,312.6" fill="none" stroke="#151515" stroke-width="1.0"/>
<text x="268.45" y="306.9" font-size="9.5" text-anchor="middle" font-family='"Liberation Sans", sans-serif'   stroke="#151515" stroke-width="0.1">ns</text>
<polyline points="256.2,298.5 256.2,294.8 303.5,294.8 303.5,298.5" fill="none" stroke="#151515" stroke-width="1.0"/>
<text x="279.85" y="296.7" font-size="12" text-anchor="middle" font-family='"Liberation Sans", sans-serif'   stroke="#151515" stroke-width="0.1">**</text>
<polyline points="326,326.6 326,322.8 350.8,322.8 350.8,326.6" fill="none" stroke="#151515" stroke-width="1.0"/>
<text x="338.4" y="321.2" font-size="9.5" text-anchor="middle" font-family='"Liberation Sans", sans-serif'   stroke="#151515" stroke-width="0.1">ns</text>
<polyline points="326,317 326,313.4 371.7,313.4 371.7,317" fill="none" stroke="#151515" stroke-width="1.0"/>
<text x="348.85" y="311.8" font-size="9.5" text-anchor="middle" font-family='"Liberation Sans", sans-serif'   stroke="#151515" stroke-width="0.1">ns</text>
<text transform="translate(266.1,381.7) rotate(-45)" font-size="14.5" text-anchor="end" font-family='"Liberation Sans", sans-serif'  stroke="#151515" stroke-width="0.2">Ctrl</text>
<text transform="translate(288.5,381.7) rotate(-45)" font-size="14.5" text-anchor="end" font-family='"Liberation Sans", sans-serif'  stroke="#151515" stroke-width="0.2">1 mg/mL<tspan dx="-2.2">&#160;LB</tspan></text>
<text transform="translate(311.6,381.7) rotate(-45)" font-size="14.5" text-anchor="end" font-family='"Liberation Sans", sans-serif'  stroke="#151515" stroke-width="0.2">2 mg/mL<tspan dx="-2.2">&#160;LB</tspan></text>
<text transform="translate(334.3,381.7) rotate(-45)" font-size="14.5" text-anchor="end" font-family='"Liberation Sans", sans-serif'  stroke="#151515" stroke-width="0.2">Ctrl</text>
<text transform="translate(357.1,381.7) rotate(-45)" font-size="14.5" text-anchor="end" font-family='"Liberation Sans", sans-serif'  stroke="#151515" stroke-width="0.2">1 mg/mL<tspan dx="-2.2">&#160;LB</tspan></text>
<text transform="translate(380.3,381.7) rotate(-45)" font-size="14.5" text-anchor="end" font-family='"Liberation Sans", sans-serif'  stroke="#151515" stroke-width="0.2">2 mg/mL<tspan dx="-2.2">&#160;LB</tspan></text>
<line x1="315.2" y1="440.6" x2="384.2" y2="440.6" stroke="#151515" stroke-width="1.1"/>
<text x="348.4" y="455.6" font-size="14.3" text-anchor="middle" font-family='"Liberation Sans", sans-serif'   stroke="#151515" stroke-width="0.2">H-89</text>
<text transform="translate(219.8,322) rotate(-90)" font-size="15.4" text-anchor="middle" font-family='"Liberation Sans", sans-serif'  stroke="#151515" stroke-width="0.2">Relative <tspan letter-spacing="-0.85">mRNA</tspan><tspan dx="1.6">&#160;level</tspan></text>
<text x="248.9" y="264.5" font-size="16.5" text-anchor="start" font-family='"Liberation Sans", sans-serif' font-style="italic"  stroke="#151515" stroke-width="0.2">Mef2a</text>
<line x1="424.5" y1="276.2" x2="424.5" y2="369.6" stroke="#151515" stroke-width="1.1"/>
<line x1="421.9" y1="369.1" x2="563" y2="369.1" stroke="#151515" stroke-width="1.1"/>
<line x1="421.9" y1="369.1" x2="424.5" y2="369.1" stroke="#151515" stroke-width="1.1"/>
<text x="420.5" y="374.7" font-size="14" text-anchor="end" font-family='"Liberation Sans", sans-serif'   stroke="#151515" stroke-width="0.2">0</text>
<line x1="421.9" y1="338.3" x2="424.5" y2="338.3" stroke="#151515" stroke-width="1.1"/>
<text x="420.5" y="343.9" font-size="14" text-anchor="end" font-family='"Liberation Sans", sans-serif'   stroke="#151515" stroke-width="0.2">0.5</text>
<line x1="421.9" y1="307.5" x2="424.5" y2="307.5" stroke="#151515" stroke-width="1.1"/>
<text x="420.5" y="313.1" font-size="14" text-anchor="end" font-family='"Liberation Sans", sans-serif'   stroke="#151515" stroke-width="0.2">1.0</text>
<line x1="421.9" y1="276.7" x2="424.5" y2="276.7" stroke="#151515" stroke-width="1.1"/>
<text x="420.5" y="282.3" font-size="14" text-anchor="end" font-family='"Liberation Sans", sans-serif'   stroke="#151515" stroke-width="0.2">1.5</text>
<line x1="436.2" y1="299.4" x2="436.2" y2="303.6" stroke="#151515" stroke-width="1.1"/>
<line x1="432.6" y1="299.4" x2="439.8" y2="299.4" stroke="#151515" stroke-width="1.1"/>
<rect x="428.35" y="304.15" width="15.7" height="64.95" fill="#fff" stroke="#151515" stroke-width="1.1"/>
<line x1="436.2" y1="369.1" x2="436.2" y2="371.7" stroke="#151515" stroke-width="1.1"/>
<line x1="459.1" y1="295.7" x2="459.1" y2="304" stroke="#151515" stroke-width="1.1"/>
<line x1="455.5" y1="295.7" x2="462.7" y2="295.7" stroke="#151515" stroke-width="1.1"/>
<rect x="451.85" y="304.5" width="14.5" height="64.6" fill="#5c5c5c" stroke="#3a3a3a" stroke-width="1"/>
<line x1="459.1" y1="369.1" x2="459.1" y2="371.7" stroke="#151515" stroke-width="1.1"/>
<line x1="482.3" y1="283.5" x2="482.3" y2="296" stroke="#151515" stroke-width="1.1"/>
<line x1="478.7" y1="283.5" x2="485.9" y2="283.5" stroke="#151515" stroke-width="1.1"/>
<rect x="475.05" y="296.5" width="14.5" height="72.6" fill="#0a0a0a" stroke="#0a0a0a" stroke-width="1"/>
<line x1="482.3" y1="369.1" x2="482.3" y2="371.7" stroke="#151515" stroke-width="1.1"/>
<line x1="505.5" y1="337.5" x2="505.5" y2="339.6" stroke="#151515" stroke-width="1.1"/>
<line x1="501.9" y1="337.5" x2="509.1" y2="337.5" stroke="#151515" stroke-width="1.1"/>
<rect x="497.65" y="340.15" width="15.7" height="28.95" fill="#fff" stroke="#151515" stroke-width="1.1"/>
<line x1="505.5" y1="369.1" x2="505.5" y2="371.7" stroke="#151515" stroke-width="1.1"/>
<line x1="528.5" y1="353.2" x2="528.5" y2="355.9" stroke="#151515" stroke-width="1.1"/>
<line x1="524.9" y1="353.2" x2="532.1" y2="353.2" stroke="#151515" stroke-width="1.1"/>
<rect x="521.25" y="356.4" width="14.5" height="12.7" fill="#5c5c5c" stroke="#3a3a3a" stroke-width="1"/>
<line x1="528.5" y1="369.1" x2="528.5" y2="371.7" stroke="#151515" stroke-width="1.1"/>
<line x1="551.5" y1="349" x2="551.5" y2="351.1" stroke="#151515" stroke-width="1.1"/>
<line x1="547.9" y1="349" x2="555.1" y2="349" stroke="#151515" stroke-width="1.1"/>
<rect x="544.25" y="351.6" width="14.5" height="17.5" fill="#0a0a0a" stroke="#0a0a0a" stroke-width="1"/>
<line x1="551.5" y1="369.1" x2="551.5" y2="371.7" stroke="#151515" stroke-width="1.1"/>
<polyline points="434.3,291.3 434.3,286.5 458.7,286.5 458.7,291.3" fill="none" stroke="#151515" stroke-width="1.0"/>
<text x="446.5" y="284.9" font-size="9.5" text-anchor="middle" font-family='"Liberation Sans", sans-serif'   stroke="#151515" stroke-width="0.1">ns</text>
<polyline points="434.3,279 434.3,275.2 482.6,275.2 482.6,279" fill="none" stroke="#151515" stroke-width="1.0"/>
<text x="458.45" y="277.1" font-size="12" text-anchor="middle" font-family='"Liberation Sans", sans-serif'   stroke="#151515" stroke-width="0.1">*</text>
<polyline points="504.4,334.3 504.4,330.2 529.5,330.2 529.5,334.3" fill="none" stroke="#151515" stroke-width="1.0"/>
<text x="516.95" y="332.1" font-size="12" text-anchor="middle" font-family='"Liberation Sans", sans-serif'   stroke="#151515" stroke-width="0.1">**</text>
<polyline points="504.4,322.8 504.4,319 552.6,319 552.6,322.8" fill="none" stroke="#151515" stroke-width="1.0"/>
<text x="528.5" y="320.9" font-size="12" text-anchor="middle" font-family='"Liberation Sans", sans-serif'   stroke="#151515" stroke-width="0.1">*</text>
<text transform="translate(444.5,381.7) rotate(-45)" font-size="14.5" text-anchor="end" font-family='"Liberation Sans", sans-serif'  stroke="#151515" stroke-width="0.2">Ctrl</text>
<text transform="translate(467.4,381.7) rotate(-45)" font-size="14.5" text-anchor="end" font-family='"Liberation Sans", sans-serif'  stroke="#151515" stroke-width="0.2">1 mg/mL<tspan dx="-2.2">&#160;LB</tspan></text>
<text transform="translate(490.6,381.7) rotate(-45)" font-size="14.5" text-anchor="end" font-family='"Liberation Sans", sans-serif'  stroke="#151515" stroke-width="0.2">2 mg/mL<tspan dx="-2.2">&#160;LB</tspan></text>
<text transform="translate(513.8,381.7) rotate(-45)" font-size="14.5" text-anchor="end" font-family='"Liberation Sans", sans-serif'  stroke="#151515" stroke-width="0.2">Ctrl</text>
<text transform="translate(536.8,381.7) rotate(-45)" font-size="14.5" text-anchor="end" font-family='"Liberation Sans", sans-serif'  stroke="#151515" stroke-width="0.2">1 mg/mL<tspan dx="-2.2">&#160;LB</tspan></text>
<text transform="translate(559.8,381.7) rotate(-45)" font-size="14.5" text-anchor="end" font-family='"Liberation Sans", sans-serif'  stroke="#151515" stroke-width="0.2">2 mg/mL<tspan dx="-2.2">&#160;LB</tspan></text>
<line x1="495.5" y1="440.5" x2="565" y2="440.5" stroke="#151515" stroke-width="1.1"/>
<text x="526.25" y="455.7" font-size="14.3" text-anchor="middle" font-family='"Liberation Sans", sans-serif'   stroke="#151515" stroke-width="0.2">H-89</text>
<text transform="translate(398.8,324.4) rotate(-90)" font-size="15.4" text-anchor="middle" font-family='"Liberation Sans", sans-serif'  stroke="#151515" stroke-width="0.2">Relative <tspan letter-spacing="-0.85">mRNA</tspan><tspan dx="1.6">&#160;level</tspan></text>
<text x="424.6" y="263.6" font-size="14.8" text-anchor="start" font-family='"Liberation Sans", sans-serif' font-style="italic"  stroke="#151515" stroke-width="0.2">Myh7</text>
<line x1="606.5" y1="271.8" x2="606.5" y2="367.7" stroke="#151515" stroke-width="1.1"/>
<line x1="603.9" y1="367.2" x2="749.3" y2="367.2" stroke="#151515" stroke-width="1.1"/>
<line x1="603.9" y1="367.2" x2="606.5" y2="367.2" stroke="#151515" stroke-width="1.1"/>
<text x="603.5" y="371.35" font-size="14" text-anchor="end" font-family='"Liberation Sans", sans-serif'   stroke="#151515" stroke-width="0.2">0</text>
<line x1="603.9" y1="348.22" x2="606.5" y2="348.22" stroke="#151515" stroke-width="1.1"/>
<text x="603.5" y="352.37" font-size="14" text-anchor="end" font-family='"Liberation Sans", sans-serif'   stroke="#151515" stroke-width="0.2">0.5</text>
<line x1="603.9" y1="329.24" x2="606.5" y2="329.24" stroke="#151515" stroke-width="1.1"/>
<text x="603.5" y="333.39" font-size="14" text-anchor="end" font-family='"Liberation Sans", sans-serif'   stroke="#151515" stroke-width="0.2">1.0</text>
<line x1="603.9" y1="310.26" x2="606.5" y2="310.26" stroke="#151515" stroke-width="1.1"/>
<text x="603.5" y="314.41" font-size="14" text-anchor="end" font-family='"Liberation Sans", sans-serif'   stroke="#151515" stroke-width="0.2">1.5</text>
<line x1="603.9" y1="291.28" x2="606.5" y2="291.28" stroke="#151515" stroke-width="1.1"/>
<text x="603.5" y="295.43" font-size="14" text-anchor="end" font-family='"Liberation Sans", sans-serif'   stroke="#151515" stroke-width="0.2">2.0</text>
<line x1="603.9" y1="272.3" x2="606.5" y2="272.3" stroke="#151515" stroke-width="1.1"/>
<text x="603.5" y="276.45" font-size="14" text-anchor="end" font-family='"Liberation Sans", sans-serif'   stroke="#151515" stroke-width="0.2">2.5</text>
<line x1="618.7" y1="328" x2="618.7" y2="329.7" stroke="#151515" stroke-width="1.1"/>
<line x1="615.1" y1="328" x2="622.3" y2="328" stroke="#151515" stroke-width="1.1"/>
<rect x="610.85" y="330.25" width="15.7" height="36.95" fill="#fff" stroke="#151515" stroke-width="1.1"/>
<line x1="618.7" y1="367.2" x2="618.7" y2="369.8" stroke="#151515" stroke-width="1.1"/>
<line x1="642" y1="313.8" x2="642" y2="316.5" stroke="#151515" stroke-width="1.1"/>
<line x1="638.4" y1="313.8" x2="645.6" y2="313.8" stroke="#151515" stroke-width="1.1"/>
<rect x="634.75" y="317" width="14.5" height="50.2" fill="#5c5c5c" stroke="#3a3a3a" stroke-width="1"/>
<line x1="642" y1="367.2" x2="642" y2="369.8" stroke="#151515" stroke-width="1.1"/>
<line x1="666" y1="287.9" x2="666" y2="291.8" stroke="#151515" stroke-width="1.1"/>
<line x1="662.4" y1="287.9" x2="669.6" y2="287.9" stroke="#151515" stroke-width="1.1"/>
<rect x="658.75" y="292.3" width="14.5" height="74.9" fill="#0a0a0a" stroke="#0a0a0a" stroke-width="1"/>
<line x1="666" y1="367.2" x2="666" y2="369.8" stroke="#151515" stroke-width="1.1"/>
<line x1="689.5" y1="358.4" x2="689.5" y2="359.1" stroke="#151515" stroke-width="1.1"/>
<line x1="685.9" y1="358.4" x2="693.1" y2="358.4" stroke="#151515" stroke-width="1.1"/>
<rect x="681.65" y="359.65" width="15.7" height="7.55" fill="#fff" stroke="#151515" stroke-width="1.1"/>
<line x1="689.5" y1="367.2" x2="689.5" y2="369.8" stroke="#151515" stroke-width="1.1"/>
<rect x="706.05" y="366.5" width="14.5" height="0.7" fill="#5c5c5c" stroke="#3a3a3a" stroke-width="1"/>
<line x1="713.3" y1="367.2" x2="713.3" y2="369.8" stroke="#151515" stroke-width="1.1"/>
<rect x="729.55" y="366.9" width="14.5" height="0.3" fill="#0a0a0a" stroke="#0a0a0a" stroke-width="1"/>
<line x1="736.8" y1="367.2" x2="736.8" y2="369.8" stroke="#151515" stroke-width="1.1"/>
<polyline points="616.7,309.2 616.7,305.5 642.6,305.5 642.6,309.2" fill="none" stroke="#151515" stroke-width="1.0"/>
<text x="629.65" y="307.4" font-size="12" text-anchor="middle" font-family='"Liberation Sans", sans-serif'   stroke="#151515" stroke-width="0.1">*</text>
<polyline points="616.7,284.3 616.7,280.4 665.8,280.4 665.8,284.3" fill="none" stroke="#151515" stroke-width="1.0"/>
<text x="641.25" y="282.3" font-size="12" text-anchor="middle" font-family='"Liberation Sans", sans-serif'   stroke="#151515" stroke-width="0.1">**</text>
<polyline points="689.6,355 689.6,351.6 715.4,351.6 715.4,355" fill="none" stroke="#151515" stroke-width="1.0"/>
<text x="702.5" y="353.5" font-size="12" text-anchor="middle" font-family='"Liberation Sans", sans-serif'   stroke="#151515" stroke-width="0.1">**</text>
<polyline points="689.6,345.4 689.6,341.7 739.1,341.7 739.1,345.4" fill="none" stroke="#151515" stroke-width="1.0"/>
<text x="714.35" y="343.6" font-size="12" text-anchor="middle" font-family='"Liberation Sans", sans-serif'   stroke="#151515" stroke-width="0.1">**</text>
<text transform="translate(627,379.8) rotate(-45)" font-size="14.5" text-anchor="end" font-family='"Liberation Sans", sans-serif'  stroke="#151515" stroke-width="0.2">Ctrl</text>
<text transform="translate(650.3,379.8) rotate(-45)" font-size="14.5" text-anchor="end" font-family='"Liberation Sans", sans-serif'  stroke="#151515" stroke-width="0.2">1 mg/mL<tspan dx="-2.2">&#160;LB</tspan></text>
<text transform="translate(674.3,379.8) rotate(-45)" font-size="14.5" text-anchor="end" font-family='"Liberation Sans", sans-serif'  stroke="#151515" stroke-width="0.2">2 mg/mL<tspan dx="-2.2">&#160;LB</tspan></text>
<text transform="translate(697.8,379.8) rotate(-45)" font-size="14.5" text-anchor="end" font-family='"Liberation Sans", sans-serif'  stroke="#151515" stroke-width="0.2">Ctrl</text>
<text transform="translate(721.6,379.8) rotate(-45)" font-size="14.5" text-anchor="end" font-family='"Liberation Sans", sans-serif'  stroke="#151515" stroke-width="0.2">1 mg/mL<tspan dx="-2.2">&#160;LB</tspan></text>
<text transform="translate(745.1,379.8) rotate(-45)" font-size="14.5" text-anchor="end" font-family='"Liberation Sans", sans-serif'  stroke="#151515" stroke-width="0.2">2 mg/mL<tspan dx="-2.2">&#160;LB</tspan></text>
<line x1="682.5" y1="439.3" x2="751.3" y2="439.3" stroke="#151515" stroke-width="1.5"/>
<text x="718.8" y="454.3" font-size="14.3" text-anchor="middle" font-family='"Liberation Sans", sans-serif'   stroke="#151515" stroke-width="0.2">H-89</text>
<text transform="translate(579.8,323.2) rotate(-90)" font-size="15.4" text-anchor="middle" font-family='"Liberation Sans", sans-serif'  stroke="#151515" stroke-width="0.2">Relative <tspan letter-spacing="-0.85">mRNA</tspan><tspan dx="1.6">&#160;level</tspan></text>
<text x="608.9" y="264.3" font-size="16.6" text-anchor="start" font-family='"Liberation Sans", sans-serif' font-style="italic"  stroke="#151515" stroke-width="0.2">Myh2</text>
<text x="35.6" y="233.8" font-size="14.4" text-anchor="start" font-family='"Liberation Sans", sans-serif' font-weight="bold"  stroke="#151515" stroke-width="0.2">(B)</text>
</g>
<text x="28.7" y="484.9" font-family='"Liberation Serif", serif' font-size="13.2" fill="#1c1c24" textLength="70.3" lengthAdjust="spacingAndGlyphs" font-weight="bold" letter-spacing="1.2">FIGURE 6</text>
<text x="113.3" y="485.1" font-family='"Liberation Serif", serif' font-size="12.35" fill="#1c1c24" textLength="624.8" lengthAdjust="spacingAndGlyphs" >The PKA-CREB-ERRγ pathway is involved in LB-induced muscle fiber type switch. A, The protein levels of phosphorylated-</text>
<text x="28.7" y="502.8" font-family='"Liberation Serif", serif' font-size="12.35" fill="#1c1c24" textLength="695.2" lengthAdjust="spacingAndGlyphs" >CREB, CREB, and ERRγ in the LB treated and untreated C2C12 myotubes subjected to H-89 (a PKA inhibitor, 30 μM) were analyzed using</text>
<text x="28.7" y="519.7" font-family='"Liberation Serif", serif' font-size="12.35" fill="#1c1c24" textLength="721.4" lengthAdjust="spacingAndGlyphs" >western blot and were normalized. B, The RNA levels of <tspan font-style="italic">Esrrg</tspan> and its downstream genes <tspan font-style="italic">Mef2a, Myh7,</tspan> and <tspan font-style="italic">Myh2</tspan> in the LB treated and untreated</text>
<text x="28.7" y="536.8" font-family='"Liberation Serif", serif' font-size="12.35" fill="#1c1c24" textLength="458.1" lengthAdjust="spacingAndGlyphs" >C2C12 myotubes subjected to H-89 (30 μM) were determined by qPCR. *<tspan font-style="italic">P</tspan> &lt; .05, **<tspan font-style="italic">P</tspan> &lt; .01</text>
</svg>
</body></html>
